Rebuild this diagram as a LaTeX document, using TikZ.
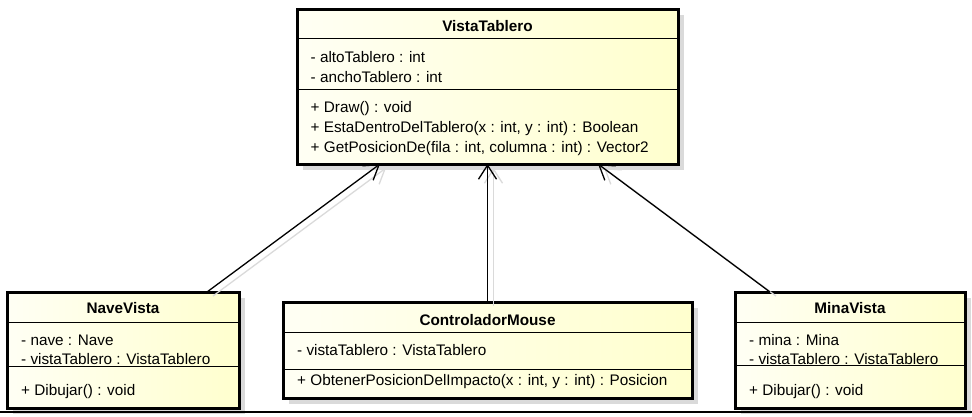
\documentclass[tikz,border=0pt]{standalone}
\usepackage{fontspec}
\setmainfont{Liberation Sans}
\usetikzlibrary{arrows.meta,shadows}

\definecolor{clsleft}{RGB}{255,255,244}
\definecolor{clsright}{RGB}{255,255,206}
\definecolor{shadowgray}{RGB}{218,218,218}
\newcommand{\umlfont}{\fontsize{15.3}{20}\selectfont}

\tikzset{
  classbox/.style={draw, line width=3pt, anchor=north west, inner sep=0pt, outer sep=0pt,
    left color=clsleft, right color=clsright,
    drop shadow={shadow xshift=6pt, shadow yshift=-6pt, fill=shadowgray, opacity=1}},
  classname/.style={anchor=base, inner sep=0pt, font=\umlfont\bfseries},
  members/.style={anchor=base west, inner sep=0pt, align=left},
  divider/.style={line width=1pt},
  assoc/.style={line width=1.3pt, -{Straight Barb[length=14pt,width=18pt,line width=1.3pt]}},
  assocshadow/.style={assoc, shadowgray, transform canvas={xshift=6pt,yshift=-4pt}}
}

\begin{document}
\begin{tikzpicture}[x=1pt, y=-1pt, font=\umlfont]
  \useasboundingbox (0,0) rectangle (972,416);

  % Class boxes
  \node[classbox, minimum width=381pt, minimum height=155pt] (vista) at (297,9) {};
  \node[classbox, minimum width=232pt, minimum height=116pt] (nave) at (7,292) {};
  \node[classbox, minimum width=409pt, minimum height=96pt] (ctrl) at (283,302) {};
  \node[classbox, minimum width=230pt, minimum height=116pt] (mina) at (735,292) {};

  % Shadows of the associations
  \draw[assocshadow] ([xshift=-32pt]nave.north east) -- ([xshift=83pt]vista.south west);
  \draw[assocshadow] (ctrl.north) -- (vista.south);
  \draw[assocshadow] ([xshift=35pt]mina.north west) -- ([xshift=-80pt]vista.south east);

  % VistaTablero (members anchored at the baseline of their last line)
  \draw[divider] ([yshift=-29pt]vista.north west) -- ([yshift=-29pt]vista.north east);
  \draw[divider] ([yshift=-80pt]vista.north west) -- ([yshift=-80pt]vista.north east);
  \node[classname] (vistaName) at (487.5,31.7) {VistaTablero};
  \node[members] (vistaAttr) at (310.5,82.3) {- altoTablero : int\\- anchoTablero : int};
  \node[members] (vistaOps) at (310.5,152.5) {+ Draw() : void\\+ EstaDentroDelTablero(x : int, y : int) : Boolean\\+ GetPosicionDe(fila : int, columna : int) : Vector2};

  % NaveVista
  \draw[divider] ([yshift=-30pt]nave.north west) -- ([yshift=-30pt]nave.north east);
  \draw[divider] ([yshift=-74pt]nave.north west) -- ([yshift=-74pt]nave.north east);
  \node[classname] (naveName) at (123,313) {NaveVista};
  \node[members] (naveAttr) at (21,364) {- nave : Nave\\[-1pt]- vistaTablero : VistaTablero};
  \node[members] (naveOps) at (21,395) {+ Dibujar() : void};

  % ControladorMouse
  \draw[divider] ([yshift=-30pt]ctrl.north west) -- ([yshift=-30pt]ctrl.north east);
  \draw[divider] ([yshift=-67pt]ctrl.north west) -- ([yshift=-67pt]ctrl.north east);
  \node[classname] (ctrlName) at (487.5,325) {ControladorMouse};
  \node[members] (ctrlAttr) at (297,355.7) {- vistaTablero : VistaTablero};
  \node[members] (ctrlOps) at (297,385) {+ ObtenerPosicionDelImpacto(x : int, y : int) : Posicion};

  % MinaVista
  \draw[divider] ([yshift=-30pt]mina.north west) -- ([yshift=-30pt]mina.north east);
  \draw[divider] ([yshift=-73pt]mina.north west) -- ([yshift=-73pt]mina.north east);
  \node[classname] (minaName) at (850,313) {MinaVista};
  \node[members] (minaAttr) at (749,364) {- mina : Mina\\[-1pt]- vistaTablero : VistaTablero};
  \node[members] (minaOps) at (749,395) {+ Dibujar() : void};

  % Associations
  \draw[assoc] ([xshift=-32pt]nave.north east) -- ([xshift=83pt]vista.south west);
  \draw[assoc] (ctrl.north) -- (vista.south);
  \draw[assoc] ([xshift=35pt]mina.north west) -- ([xshift=-80pt]vista.south east);

  % Bottom edge
  \draw[line width=2pt] (0,412) -- (972,412);
\end{tikzpicture}
\end{document}
